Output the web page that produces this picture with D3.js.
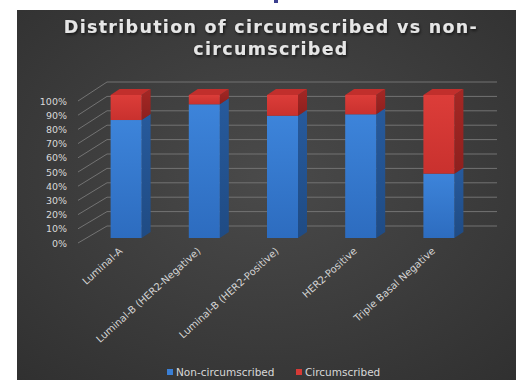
<!DOCTYPE html>
<html>
<head>
<meta charset="utf-8">
<script src="https://cdn.jsdelivr.net/npm/d3@7"></script>
<style>
  html, body { margin: 0; padding: 0; background: #ffffff; }
  svg { display: block; }
</style>
</head>
<body>
<svg id="chart" width="516" height="380"></svg>
<script>
// Molecular subtypes and share of each margin type (percent)
const categories = [
  "Luminal-A",
  "Luminal-B (HER2-Negative)",
  "Luminal-B (HER2-Positive)",
  "HER2-Positive",
  "Triple Basal Negative"
];
const nonCircumscribed = [82.5, 93.5, 85.5, 86.5, 45];
const circumscribed = [17.5, 6.5, 14.5, 13.5, 55];
const tickValues = [0, 10, 20, 30, 40, 50, 60, 70, 80, 90, 100];
const seriesNames = ["Non-circumscribed", "Circumscribed"];

const svg = d3.select("#chart");
const defs = svg.append("defs");

// Panel background: dark radial gradient
const bg = defs.append("radialGradient").attr("id", "bg")
  .attr("cx", "50%").attr("cy", "45%").attr("r", "75%");
bg.append("stop").attr("offset", "0%").attr("stop-color", "#4a4a4a");
bg.append("stop").attr("offset", "100%").attr("stop-color", "#303030");

function vGrad(id, top, bottom) {
  const g = defs.append("linearGradient").attr("id", id)
    .attr("x1", 0).attr("y1", 0).attr("x2", 0).attr("y2", 1);
  g.append("stop").attr("offset", "0%").attr("stop-color", top);
  g.append("stop").attr("offset", "100%").attr("stop-color", bottom);
}
vGrad("blueFront", "#3d84da", "#2d6cbf");
vGrad("blueSide", "#275a9c", "#1f4b84");
vGrad("redFront", "#dc3d39", "#c9312e");
vGrad("redSide", "#a42724", "#8e201e");

const shadow = defs.append("filter").attr("id", "tshadow")
  .attr("x", "-10%").attr("y", "-30%").attr("width", "120%").attr("height", "160%");
shadow.append("feDropShadow").attr("dx", 1).attr("dy", 1.5)
  .attr("stdDeviation", 1.5).attr("flood-color", "#000").attr("flood-opacity", 0.7);

svg.append("rect").attr("x", 17).attr("y", 10).attr("width", 499).attr("height", 370)
  .attr("fill", "url(#bg)");

// small fragment at top of the page
svg.append("rect").attr("x", 274).attr("y", 0).attr("width", 4).attr("height", 3)
  .attr("fill", "#3b3f8f");

// Title
const title = svg.append("text")
  .attr("text-anchor", "middle")
  .attr("font-family", "DejaVu Sans, sans-serif")
  .attr("font-weight", "bold")
  .attr("font-size", 17.5)
  .attr("letter-spacing", 1.3)
  .attr("fill", "#e6e6e6")
  .attr("filter", "url(#tshadow)");
title.append("tspan").attr("x", 271).attr("y", 33).text("Distribution of circumscribed vs non-");
title.append("tspan").attr("x", 271).attr("y", 55).text("circumscribed");

// Scales: back wall, front (axis labels) and bar front faces
const yBack = d3.scaleLinear().domain([0, 100]).range([226, 82]);
const yFront = d3.scaleLinear().domain([0, 100]).range([243, 101]);
const yBar = d3.scaleLinear().domain([0, 100]).range([238, 95]);
const x = d3.scalePoint().domain(categories).range([87, 478]).padding(0.5);

const wallLeft = 107, wallRight = 497, frontX = 78;
const barW = 31, depthX = 9, depthY = -6;

// Gridlines: back wall and side wall
const grid = svg.append("g").attr("stroke", "#737373").attr("stroke-width", 1).attr("fill", "none");
tickValues.forEach(v => {
  grid.append("line")
    .attr("x1", wallLeft).attr("x2", wallRight)
    .attr("y1", yBack(v)).attr("y2", yBack(v));
  grid.append("line")
    .attr("x1", frontX).attr("y1", yFront(v))
    .attr("x2", wallLeft).attr("y2", yBack(v));
});

// Y axis labels
const yAxis = d3.axisLeft(yFront).tickValues(tickValues).tickFormat(d => d + "%").tickSize(0).tickPadding(0);
const yG = svg.append("g").attr("transform", "translate(67,0)").call(yAxis);
yG.select(".domain").remove();
yG.selectAll("text")
  .attr("font-family", "DejaVu Sans, sans-serif")
  .attr("font-size", 9.5)
  .attr("fill", "#d8d8d8");

// 3D stacked bars
const stack = d3.stack().keys(["non", "circ"])(
  categories.map((c, i) => ({ cat: c, non: nonCircumscribed[i], circ: circumscribed[i] }))
);
const faces = {
  non: { front: "url(#blueFront)", side: "url(#blueSide)", top: "#3270c0" },
  circ: { front: "url(#redFront)", side: "url(#redSide)", top: "#c12f2c" }
};

const bars = svg.append("g");
categories.forEach((c, i) => {
  const cx = x(c);
  const x0 = cx - barW / 2, x1 = cx + barW / 2;
  stack.forEach(layer => {
    const seg = layer[i];
    const yT = yBar(seg[1]), yB = yBar(seg[0]);
    const f = faces[layer.key];
    // side face
    bars.append("path")
      .attr("d", `M${x1},${yB} L${x1 + depthX},${yB + depthY} L${x1 + depthX},${yT + depthY} L${x1},${yT} Z`)
      .attr("fill", f.side);
    // front face
    bars.append("rect")
      .attr("x", x0).attr("y", yT).attr("width", barW).attr("height", yB - yT)
      .attr("fill", f.front);
    // top face (visible only on the uppermost segment)
    if (layer.key === "circ") {
      bars.append("path")
        .attr("d", `M${x0},${yT} L${x0 + depthX},${yT + depthY} L${x1 + depthX},${yT + depthY} L${x1},${yT} Z`)
        .attr("fill", f.top);
    }
  });
});

// Category labels, rotated
svg.append("g").selectAll("text").data(categories).join("text")
  .attr("transform", d => `translate(${x(d) - 3},${252}) rotate(-42)`)
  .attr("text-anchor", "end")
  .attr("font-family", "DejaVu Sans, sans-serif")
  .attr("font-size", 10)
  .attr("fill", "#d4d4d4")
  .text(d => d);

// Legend
const legendColors = ["#3a7fd5", "#d63a36"];
const legendX = [167, 296];
const legend = svg.append("g");
seriesNames.forEach((name, i) => {
  legend.append("rect").attr("x", legendX[i]).attr("y", 369).attr("width", 6).attr("height", 6)
    .attr("fill", legendColors[i]);
  legend.append("text").attr("x", legendX[i] + 9).attr("y", 376)
    .attr("font-family", "DejaVu Sans, sans-serif")
    .attr("font-size", 10.5)
    .attr("fill", "#d8d8d8")
    .text(name);
});
</script>
</body>
</html>
